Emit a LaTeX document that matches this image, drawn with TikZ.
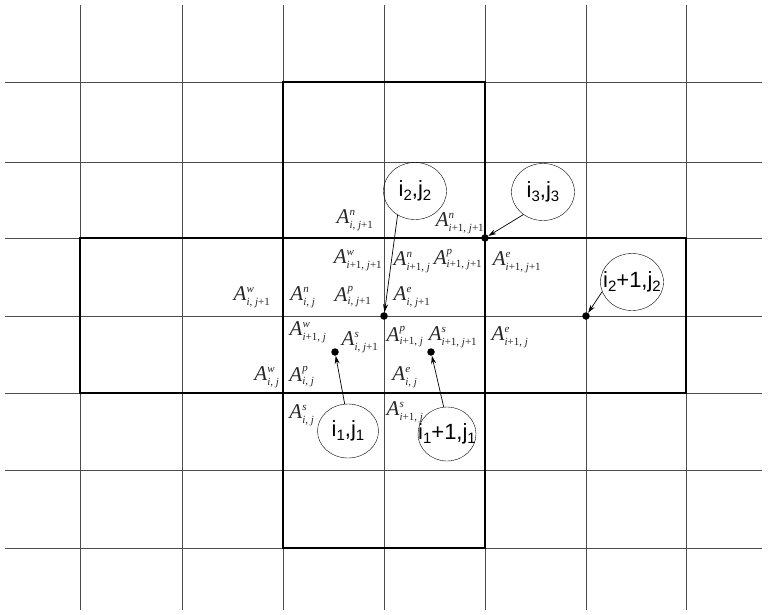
\documentclass[tikz,border=0pt]{standalone}
\usepackage{amsmath}
\usepackage{fontspec}
\setmainfont{Liberation Serif}
\newfontfamily\arialfont{Liberation Sans}
\usetikzlibrary{shapes.geometric,arrows.meta}
\newcommand\Ii{\textit{i}}
\newcommand\Jj{\textit{j}}
\newcommand\Alab[2]{\textit{A}$^{\hbox{\fontsize{11}{11}\selectfont\textit{#1}}}_{\hbox{\fontsize{11}{11}\selectfont #2}}$}
\newcommand\dn[1]{\raisebox{-0.35ex}{\fontsize{15}{15}\selectfont #1}}
\tikzset{
  lab/.style={font=\fontsize{21}{21}\selectfont, inner sep=0pt, text=black!85},
  bub/.style={ellipse, draw, minimum width=63pt, minimum height=57pt, inner sep=0pt, font=\arialfont\fontsize{22}{22}\selectfont},
  gdot/.style={circle, fill, inner sep=0pt, minimum size=7.5pt},
  ptr/.style={-{Stealth[length=8pt,width=5pt]}, line width=0.7pt}
}
\begin{document}
\begin{tikzpicture}[x=1pt,y=-1pt]
  \useasboundingbox (0,0) rectangle (768,614);
  % Grid of cells
  \foreach \x in {80,182,283,384,485,586,686} {
    \draw[black!70, line width=1pt] (\x,5) -- (\x,610);
  }
  \foreach \y in {82,162,238,316,393,470,548} {
    \draw[black!70, line width=1pt] (5,\y) -- (762,\y);
  }
  % Cross of thick boxes
  \draw[line width=2.8pt] (283,82) rectangle (485,548);
  \draw[line width=2.8pt] (80,238) rectangle (686,393);
  % Coefficients
  \node[lab] (a1) at (355,220) {\Alab{n}{\Ii, \Jj+1}};
  \node[lab] (a2) at (460,223) {\Alab{n}{\Ii+1, \Jj+1}};
  \node[lab] (a3) at (358,260) {\Alab{w}{\Ii+1, \Jj+1}};
  \node[lab] (a4) at (412,262) {\Alab{n}{\Ii+1, \Jj}};
  \node[lab] (a5) at (458,260) {\Alab{p}{\Ii+1, \Jj+1}};
  \node[lab] (a6) at (517,262) {\Alab{e}{\Ii+1, \Jj+1}};
  \node[lab] (a7) at (252,297) {\Alab{w}{\Ii, \Jj+1}};
  \node[lab] (a8) at (303,297) {\Alab{n}{\Ii, \Jj}};
  \node[lab] (a9) at (353,297) {\Alab{p}{\Ii, \Jj+1}};
  \node[lab] (a10) at (412,297) {\Alab{e}{\Ii, \Jj+1}};
  \node[lab] (a11) at (308,332) {\Alab{w}{\Ii+1, \Jj}};
  \node[lab] (a12) at (360,342) {\Alab{s}{\Ii, \Jj+1}};
  \node[lab] (a13) at (405,337) {\Alab{p}{\Ii+1, \Jj}};
  \node[lab] (a14) at (453,337) {\Alab{s}{\Ii+1, \Jj+1}};
  \node[lab] (a15) at (510,337) {\Alab{e}{\Ii+1, \Jj}};
  \node[lab] (a16) at (267,377) {\Alab{w}{\Ii, \Jj}};
  \node[lab] (a17) at (302,377) {\Alab{p}{\Ii, \Jj}};
  \node[lab] (a18) at (405,377) {\Alab{e}{\Ii, \Jj}};
  \node[lab] (a19) at (302,415) {\Alab{s}{\Ii, \Jj}};
  \node[lab] (a20) at (405,412) {\Alab{s}{\Ii+1, \Jj}};
  % Points and their tags
  \node[gdot] (d22) at (384,316) {};
  \node[gdot] (d33) at (485,238) {};
  \node[gdot] (d32) at (586,316) {};
  \node[gdot] (d11) at (335,352) {};
  \node[gdot] (d21) at (431,352) {};
  \node[bub] (b22) at (415,191) {i\dn{2},j\dn{2}};
  \node[bub] (b33) at (543,192) {i\dn{3},j\dn{3}};
  \node[bub] (b32) at (632,282) {\makebox[0pt]{i\dn{2}+1,j\dn{2}}};
  \node[bub, minimum width=61pt, minimum height=54pt] (b11) at (348,431) {i\dn{1},j\dn{1}};
  \node[bub, minimum width=58pt, minimum height=54pt] (b21) at (447,434) {\makebox[0pt]{i\dn{1}+1,j\dn{1}}};
  \draw[ptr] (b22.234) -- (d22);
  \draw[ptr] (b33.229) -- (d33);
  \draw[ptr] (b32.198) -- (d32);
  \draw[ptr] (b11.97) -- (d11);
  \draw[ptr] (b21.97) -- (d21);
\end{tikzpicture}
\end{document}
